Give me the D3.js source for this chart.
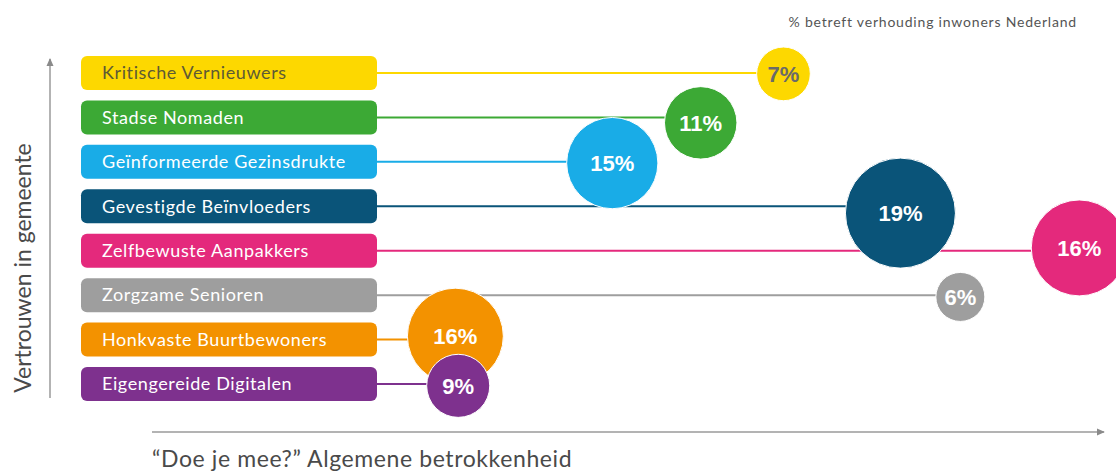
<!DOCTYPE html>
<html lang="nl">
<head>
<meta charset="utf-8">
<title>Segmenten: vertrouwen en betrokkenheid</title>
<script src="https://d3js.org/d3.v7.min.js"></script>
<style>
  body { margin: 0; background: #fff; }
  text { font-family: Lato, "Open Sans", sans-serif; }
</style>
</head>
<body>
<script>
// segment names, top to bottom
var segments = ["Kritische Vernieuwers", "Stadse Nomaden", "Geïnformeerde Gezinsdrukte",
  "Gevestigde Beïnvloeders", "Zelfbewuste Aanpakkers", "Zorgzame Senioren",
  "Honkvaste Buurtbewoners", "Eigengereide Digitalen"];
// share of Dutch inhabitants (%)
var shares = [7, 11, 15, 19, 16, 6, 16, 9];
// estimated position: "Doe je mee?" betrokkenheid (0-100)
var betrokkenheid = [66.4, 57.7, 48.4, 78.7, 97.5, 85, 31.9, 32.2];
// estimated position: vertrouwen in gemeente (0-100)
var vertrouwen = [95.9, 81.4, 69.5, 54.7, 44.4, 29.9, 18.3, 3.6];

var colors = ["#FDD800", "#3CA935", "#19ACE7", "#0A5479", "#E4297C", "#9E9E9E", "#F39200", "#7E318E"];
var boxText = ["#5e5a35", "#fff", "#fff", "#fff", "#fff", "#fff", "#fff", "#fff"];
var bubbleText = ["#6a6a6a", "#fff", "#fff", "#fff", "#fff", "#fff", "#fff", "#fff"];

var width = 1116, height = 475;

var svg = d3.select("body").append("svg")
    .attr("width", width)
    .attr("height", height);

var x = d3.scaleLinear().domain([0, 100]).range([152, 1103]);
var y = d3.scaleLinear().domain([0, 100]).range([398, 60]);
var row = d3.scalePoint().domain(segments).range([73, 384]);
var r = d3.scaleLinear().domain([6, 19]).range([24.5, 55]);

var boxLeft = 81, boxRight = 377, boxH = 34;

var rows = segments.map(function(s, i) {
  return {name: s, share: shares[i], bx: betrokkenheid[i], vy: vertrouwen[i], i: i};
});

// arrows
var defs = svg.append("defs");
defs.append("marker")
    .attr("id", "arrow")
    .attr("viewBox", "0 0 10 10")
    .attr("refX", 8).attr("refY", 5)
    .attr("markerWidth", 6).attr("markerHeight", 6)
    .attr("orient", "auto")
  .append("path")
    .attr("d", "M0,1 L9,5 L0,9 z")
    .attr("fill", "#8a8a8a");

svg.append("line")
    .attr("x1", 50).attr("y1", 398)
    .attr("x2", 50).attr("y2", 59)
    .attr("stroke", "#9a9a9a").attr("stroke-width", 1.5)
    .attr("marker-end", "url(#arrow)");

svg.append("line")
    .attr("x1", 152).attr("y1", 432)
    .attr("x2", 1104).attr("y2", 432)
    .attr("stroke", "#9a9a9a").attr("stroke-width", 1.5)
    .attr("marker-end", "url(#arrow)");

svg.append("text")
    .attr("transform", "translate(31,268) rotate(-90)")
    .attr("text-anchor", "middle")
    .attr("font-size", 23)
    .attr("fill", "#4a4a4a")
    .text("Vertrouwen in gemeente");

svg.append("text")
    .attr("x", 152).attr("y", 467)
    .attr("font-size", 23)
    .attr("letter-spacing", 0.6)
    .attr("fill", "#4a4a4a")
    .text("\u201cDoe je mee?\u201d  Algemene betrokkenheid");

svg.append("text")
    .attr("x", 1077).attr("y", 27)
    .attr("text-anchor", "end")
    .attr("font-size", 14)
    .attr("letter-spacing", 0.8)
    .attr("fill", "#555")
    .text("% betreft verhouding inwoners Nederland");

// connector lines
svg.selectAll(".conn")
  .data(rows)
  .enter().append("line")
    .attr("class", "conn")
    .attr("x1", boxRight)
    .attr("x2", function(d) { return x(d.bx); })
    .attr("y1", function(d) { return row(d.name); })
    .attr("y2", function(d) { return row(d.name); })
    .attr("stroke", function(d) { return colors[d.i]; })
    .attr("stroke-width", 2);

// label boxes
var box = svg.selectAll(".box")
  .data(rows)
  .enter().append("g")
    .attr("class", "box");

box.append("rect")
    .attr("x", boxLeft)
    .attr("y", function(d) { return row(d.name) - boxH / 2; })
    .attr("width", boxRight - boxLeft)
    .attr("height", boxH)
    .attr("rx", 6)
    .attr("fill", function(d) { return colors[d.i]; });

box.append("text")
    .attr("x", 102)
    .attr("y", function(d) { return row(d.name); })
    .attr("dy", "0.35em")
    .attr("font-size", 18)
    .attr("letter-spacing", 0.6)
    .attr("fill", function(d) { return boxText[d.i]; })
    .text(function(d) { return d.name; });

// bubbles
var bub = svg.selectAll(".bub")
  .data(rows)
  .enter().append("g")
    .attr("class", "bub");

bub.append("circle")
    .attr("cx", function(d) { return x(d.bx); })
    .attr("cy", function(d) { return y(d.vy); })
    .attr("r", function(d) { return r(d.share); })
    .attr("fill", function(d) { return colors[d.i]; })
    .attr("stroke", "#fff")
    .attr("stroke-width", 1);

bub.append("text")
    .attr("x", function(d) { return x(d.bx); })
    .attr("y", function(d) { return y(d.vy); })
    .attr("dy", "0.36em")
    .attr("text-anchor", "middle")
    .style("font-family", "'Liberation Sans', Arial, sans-serif")
    .attr("font-weight", "bold")
    .attr("font-size", 22)
    .attr("fill", function(d) { return bubbleText[d.i]; })
    .text(function(d) { return d.share + "%"; });
</script>
</body>
</html>
